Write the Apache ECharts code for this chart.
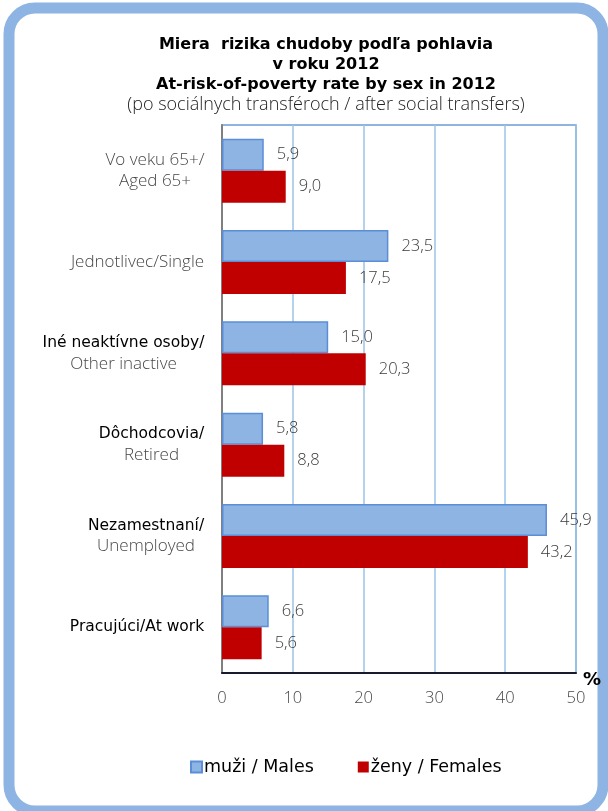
<!DOCTYPE html>
<html><head><meta charset="utf-8">
<script src="https://cdn.jsdelivr.net/npm/echarts@6/dist/echarts.min.js"></script>
<style>html,body{margin:0;padding:0;background:#fff}#c{width:608px;height:811px}</style>
</head><body><div id="c"></div>
<script>
var categoriesLine1 = ['Vo veku 65+/', 'Jednotlivec/Single', 'Iné neaktívne osoby/', 'Dôchodcovia/', 'Nezamestnaní/', 'Pracujúci/At work'];
var categoriesLine2 = ['Aged 65+', '', 'Other inactive', 'Retired', 'Unemployed', ''];
var line1Dark = [false, false, true, true, true, true];
var males = [5.9, 23.5, 15.0, 5.8, 45.9, 6.6];
var females = [9.0, 17.5, 20.3, 8.8, 43.2, 5.6];
var xTicks = [0, 10, 20, 30, 40, 50];
var seriesNames = ['muži / Males', 'ženy / Females'];

var darkFont = '"DejaVu Sans", sans-serif';
var lightFont = '"Open Sans", "Noto Sans", sans-serif';
var darkSize = 15.5, lightSize = 17;
var lightWeight = 300;
var grey = '#474747';

var cv = document.createElement('canvas').getContext('2d');
function w(txt, font, size, weight) { cv.font = (weight||'normal') + ' ' + size + 'px ' + font; return cv.measureText(txt).width; }

var rich = {};
var cats = categoriesLine1.map(function (l1, i) {
  var f1 = line1Dark[i] ? darkFont : lightFont, s1 = line1Dark[i] ? darkSize : lightSize, w1w = line1Dark[i] ? 'normal' : lightWeight;
  var w1 = w(l1, f1, s1, w1w), w2 = categoriesLine2[i] ? w(categoriesLine2[i], lightFont, lightSize, lightWeight) : 0;
  var W = Math.ceil(Math.max(w1, w2)) + 1;
  rich['a' + i] = { fontFamily: f1, fontSize: s1, fontWeight: w1w, color: line1Dark[i] ? '#000' : grey, width: W, align: 'center', lineHeight: 21 };
  rich['b' + i] = { fontFamily: lightFont, fontSize: lightSize, fontWeight: lightWeight, color: grey, width: W, align: 'center', lineHeight: 21 };
  return l1 + '|' + i;
});

function fmt(v) { return v.toFixed(1).replace('.', ','); }

var chart = echarts.init(document.getElementById('c'), null, { renderer: 'canvas' });
var labelStyle = { show: true, position: 'right', distance: 13, fontFamily: lightFont, fontWeight: lightWeight, fontSize: 16.5, color: '#3a3a3a', formatter: function (p) { return fmt(p.value); } };
chart.setOption({
  backgroundColor: '#fff',
  animation: false,
  graphic: [{
    type: 'rect', shape: { x: 9, y: 8, width: 594, height: 803, r: 26 },
    style: { fill: 'none', stroke: '#8DB4E2', lineWidth: 11 }, z: -1
  }],
  title: {
    text: '{b|Miera  rizika chudoby podľa pohlavia}\n{b|v roku 2012}\n{b|At-risk-of-poverty rate by sex in 2012}\n{n|(po sociálnych transféroch / after social transfers)}',
    left: 321, textAlign: 'center', top: 30,
    textStyle: {
      rich: {
        b: { fontFamily: darkFont, fontWeight: 'bold', fontSize: 16, color: '#000', lineHeight: 20, align: 'center' },
        n: { fontFamily: lightFont, fontWeight: lightWeight, fontSize: 18, color: '#222', lineHeight: 20, align: 'center' }
      }
    }
  },
  legend: {
    data: seriesNames, bottom: 30, left: 185, itemGap: 44, itemWidth: 11, itemHeight: 11,
    icon: 'rect',
    textStyle: { fontFamily: darkFont, fontSize: 17.5, color: '#000', padding: [0, 0, 0, -3] }
  },
  grid: { left: 222, right: 32, top: 125, bottom: 138, show: true, borderColor: '#6C9BD9', borderWidth: 1.5, containLabel: false },
  xAxis: {
    type: 'value', min: 0, max: 50, interval: 10,
    name: '{p|%}', nameLocation: 'end', nameGap: 7,
    nameTextStyle: { rich: { p: { fontFamily: darkFont, fontWeight: 'bold', fontSize: 18, color: '#000', padding: [15, 0, 0, 0] } } },
    axisLine: { show: true, lineStyle: { color: '#1a1a2e', width: 2 } },
    axisTick: { show: false },
    axisLabel: { margin: 17, fontFamily: lightFont, fontWeight: lightWeight, fontSize: 16.5, color: grey, formatter: function (v) { return xTicks.indexOf(v) >= 0 ? String(v) : ''; } },
    splitLine: { show: true, lineStyle: { color: '#9DC3E6', width: 1.5 } }
  },
  yAxis: {
    type: 'category', inverse: true, data: cats,
    axisLine: { show: true, lineStyle: { color: '#808080', width: 2 } },
    axisTick: { show: false },
    axisLabel: {
      margin: 17, align: 'right',
      formatter: function (v) {
        var p = v.split('|'), i = +p[1];
        var s = '{a' + i + '|' + categoriesLine1[i] + '}';
        if (categoriesLine2[i]) s += '\n{b' + i + '|' + categoriesLine2[i] + '}';
        return s;
      },
      rich: rich
    }
  },
  series: [{
    name: seriesNames[0], type: 'bar', data: males, barWidth: '35%', barGap: '0%',
    itemStyle: { color: '#8DB4E2', borderColor: '#5B8ED6', borderWidth: 1.5 },
    label: labelStyle
  }, {
    name: seriesNames[1], type: 'bar', data: females, barWidth: '35%', barGap: '0%',
    itemStyle: { color: '#C00000' },
    label: labelStyle
  }]
});
</script></body></html>
